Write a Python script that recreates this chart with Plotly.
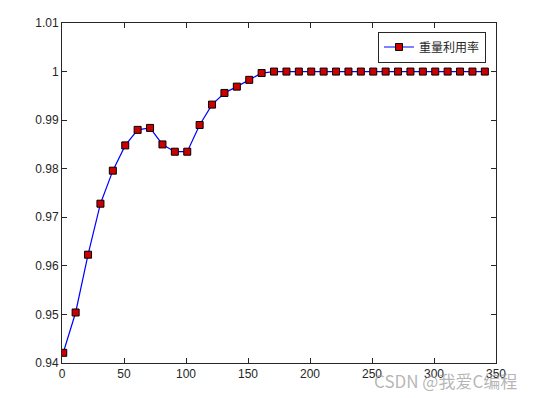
import plotly.graph_objects as go

x_vals = list(range(1, 342, 10))
y_vals = [0.9421, 0.9504, 0.9623, 0.9728, 0.9796, 0.9848, 0.9880, 0.9884,
          0.9850, 0.9835, 0.9835, 0.9890, 0.9932, 0.9956, 0.9969, 0.9983,
          0.9997] + [1.0] * 18
series_name = "重量利用率"
x_ticks = [0, 50, 100, 150, 200, 250, 300, 350]
y_ticks = [0.94, 0.95, 0.96, 0.97, 0.98, 0.99, 1.0, 1.01]
y_tick_text = ["0.94", "0.95", "0.96", "0.97", "0.98", "0.99", "1", "1.01"]

fig = go.Figure()
fig.add_trace(go.Scatter(
    x=x_vals, y=y_vals, name=series_name, mode="lines+markers",
    line=dict(color="#0000ff", width=1.2),
    marker=dict(symbol="square", size=7, color="#cc0000",
                line=dict(color="#000000", width=1)),
))

axis_common = dict(showgrid=False, zeroline=False, showline=True, linecolor="#262626",
                   linewidth=1, mirror="ticks", ticks="inside", ticklen=5,
                   tickcolor="#262626",
                   tickfont=dict(family="Liberation Sans, Arial", size=12, color="#262626"))

fig.update_layout(
    width=535, height=398,
    margin=dict(l=62, r=39, t=23, b=35),
    paper_bgcolor="white", plot_bgcolor="white",
    showlegend=True,
    legend=dict(x=0.977, y=0.975, xanchor="right", yanchor="top",
                bgcolor="white", bordercolor="#262626", borderwidth=1,
                font=dict(family="Noto Sans CJK SC", size=12, color="#262626"),
                tracegroupgap=0),
    xaxis=dict(range=[0, 350], tickvals=x_ticks, **axis_common),
    yaxis=dict(range=[0.94, 1.01], tickvals=y_ticks, ticktext=y_tick_text, **axis_common),
)

fig.add_annotation(text="CSDN @我爱C编程", xref="paper", yref="paper",
                   x=1.052, y=-0.05, xanchor="right", yanchor="middle", showarrow=False,
                   font=dict(family="Noto Sans CJK SC", size=17, color="rgba(150,150,150,0.7)"))

fig.write_html("out.html")
